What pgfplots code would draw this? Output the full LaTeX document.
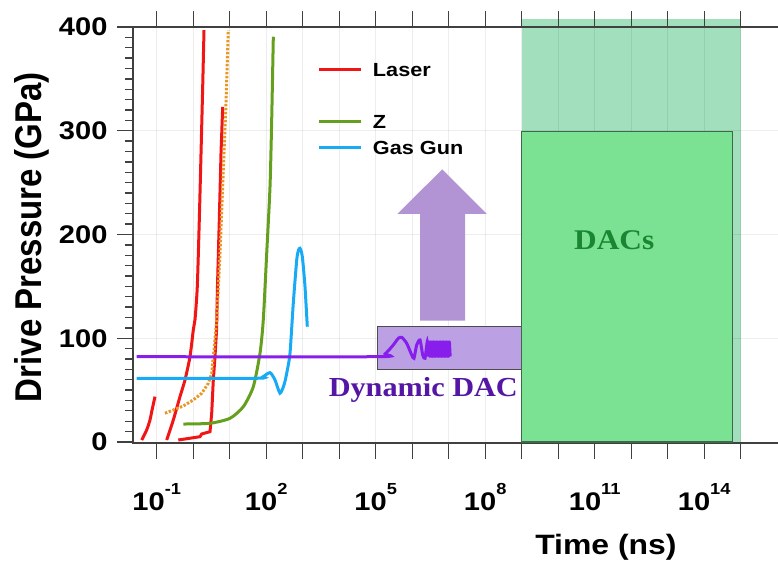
\documentclass[border=0pt]{standalone}
\usepackage{fontspec}
\setmainfont{Liberation Sans}[FakeStretch=1.14]
\newfontfamily\timesb{Liberation Serif}[FakeStretch=1.1]
\newfontfamily\plainsans{Liberation Sans}
\usepackage{graphicx}
\usepackage{pgfplots}
\pgfplotsset{compat=1.18}
\definecolor{cred}{RGB}{240,22,22}
\definecolor{cgreen}{RGB}{100,160,30}
\definecolor{cblue}{RGB}{25,170,245}
\definecolor{cpurple}{RGB}{135,30,235}
\definecolor{corange}{RGB}{232,152,40}
\definecolor{cbox}{RGB}{188,160,228}
\definecolor{carrow}{RGB}{178,148,212}
\definecolor{cdactext}{RGB}{85,22,165}
\definecolor{cdacs}{RGB}{25,135,50}
\definecolor{cgbox}{RGB}{122,226,146}
\definecolor{clight}{RGB}{162,223,188}
\definecolor{cgedge}{RGB}{60,105,75}
\newcommand\xl[1]{10\raisebox{16pt}{\fontsize{16}{16}\selectfont#1}}
\begin{document}
\begin{tikzpicture}
\begin{axis}[
  at={(133pt,120pt)}, anchor=south west,
  scale only axis, width=647pt, height=416pt,
  set layers, clip=false,
  xmode=log,
  xmin=0.02242, xmax=1.194e16,
  ymin=-1, ymax=400,
  xtick={1e-1,1e0,1e1,1e2,1e3,1e4,1e5,1e6,1e7,1e8,1e9,1e10,1e11,1e12,1e13,1e14,1e15},
  xticklabels={\xl{-1},,,\xl{2},,,\xl{5},,,\xl{8},,,\xl{11},,,\xl{14},},
  xminorticks=false,
  xtick pos=both, xticklabel pos=lower,
  ytick={0,100,200,300,400},
  yticklabels={0,100,200,300,400},
  minor y tick num=9,
  ytick pos=left,
  tick align=outside,
  major tick length=16pt, minor tick length=8pt,
  tick style={draw=black!75, line width=1.3pt},
  axis line style={draw=black!75, line width=1.3pt},
  grid=major,
  major grid style={draw=black, draw opacity=0.07, line width=0.8pt},
  tick label style={font=\bfseries\fontsize{25.5}{28}\selectfont},
  xticklabel style={yshift=-21pt},
  yticklabel style={xshift=-6pt},
  xlabel={Time (ns)},
  ylabel={\scalebox{1}[1.13]{Drive Pressure (GPa)}},
  every axis x label/.style={at={(axis description cs:0.731,-0.2692)}, anchor=base, font=\bfseries\fontsize{28}{30}\selectfont},
  every axis y label/.style={at={(axis description cs:-0.1411,0.495)}, rotate=90, anchor=base, font=\plainsans\bfseries\fontsize{33}{36}\selectfont},
  legend style={at={(axis description cs:0.2859,0.9147)}, anchor=north west, draw=none, fill=none, inner sep=0pt, outer sep=0pt, row sep=12.4pt, column sep=10pt, font=\bfseries\fontsize{19}{19}\selectfont, nodes={inner sep=0pt, text height=13.6pt, text depth=0pt}},
  legend cell align=left,
  legend image code/.code={\draw[#1] (0pt,0pt) -- (42pt,0pt);},
]
% light green DAC range
\addplot[on layer=axis background, fill=clight, draw=none, forget plot] coordinates {(1e9,-1) (1e15,-1) (1e15,408) (1e9,408)} -- cycle;
% dynamic DAC box
\addplot[fill=cbox, draw=black!70, line width=1.3pt, forget plot] coordinates {(1.107e5,70.1) (1e9,70.1) (1e9,111.1) (1.107e5,111.1)} -- cycle;
% Laser
\addplot[cred, line width=3pt, smooth, tension=0.4, forget plot] coordinates {(3.881e-2,1.9) (5.32e-2,11.6) (6.55e-2,21.2) (7.29e-2,29.2) (8.97e-2,43.7)};
\addplot[cred, line width=3pt, smooth, tension=0.4, forget plot] coordinates {(0.1879,1.9) (0.2851,21.2) (0.4345,43.7) (0.5957,59.8) (0.8166,82.2) (1.007,108) (1.119,117.6) (1.294,149.7) (1.469,214) (1.637,278) (1.820,342.5) (1.977,397)};
\addplot[cred, line width=3pt, forget plot] coordinates {(0.3908,1.9) (0.8166,3.6) (1.535,5.1) (1.710,7.7) (2.884,9.9) (3.214,27.7) (3.556,59.8) (3.954,82.2) (4.365,108) (4.624,150) (5.188,214) (5.781,278.6) (6.427,323)};
% orange dotted
\addplot[corange, line width=3pt, dash pattern=on 2.4pt off 1.6pt, forget plot] coordinates {(0.1687,27.7) (0.2851,30.8) (0.5358,34.7) (1.007,40.5) (1.710,46.9) (2.594,56.6) (3.214,66.2) (3.715,88.7) (4.406,117.6) (5.420,182) (6.683,262) (7.925,326.7) (9.162,397)};
% Z
\addplot[cgreen, line width=3pt, smooth, tension=0.4, forget plot] coordinates {(0.5358,17.3) (2.884,18.0) (10.19,22.8) (23.60,34.0) (44.36,53.3) (67.61,85.5) (83.18,117.6) (103.3,181.9) (127.1,246) (141.3,310) (156.7,390.6)};
% Gas gun
\addplot[cblue, line width=3pt, smooth, tension=0.4, forget plot] coordinates {(2.831e-2,61.4) (54.95,61.4) (81.66,62.9) (127.1,66.8) (174.2,59.8) (238.8,47) (307.6,55) (364.8,66.2) (448.7,85.5) (552.1,133.7) (685.5,175.4) (767.4,185) (843.4,186.7) (926.8,183) (1000,175.4) (1156,149.7) (1337,111.1)};
% Dynamic DAC line
\addplot[cpurple, line width=3pt, smooth, tension=0.4, forget plot] coordinates {(2.831e-2,82.2) (1.064e5,82.2) (1.799e5,84.8) (3.034e5,93.5) (4.159e5,99.9) (5.152e5,100.9) (7.063e5,95.1) (9.683e5,83.9) (1.119e6,80.7) (1.327e6,93.5) (1.637e6,98.3) (1.941e6,83.9) (2.244e6,80.7) (2.594e6,96.7) (2.754e6,82.5)};
\addplot[cpurple, line width=3pt, line join=round, forget plot] coordinates {(2.754e6,82.5) (2.884e6,96.5) (3.020e6,82.5) (3.162e6,96.5) (3.311e6,82.5) (3.467e6,96.5) (3.631e6,82.5) (3.802e6,96.5) (3.981e6,82.5) (4.169e6,96.5) (4.365e6,82.5) (4.571e6,96.5) (4.786e6,82.5) (5.012e6,96.5) (5.248e6,82.5) (5.495e6,96.5) (5.754e6,82.5) (6.026e6,96.5) (6.310e6,82.5) (6.607e6,96.5) (6.918e6,82.5) (7.244e6,96.5) (7.586e6,82.5) (7.943e6,96.5) (8.318e6,82.5) (8.710e6,96.5) (9.120e6,82.5) (9.550e6,96.5) (1.000e7,82.5) (1.047e7,96.5) (1.096e7,82.5)};
% DACs box
\addplot[fill=cgbox, draw=cgedge, line width=1.3pt, forget plot] coordinates {(1e9,0) (6.026e14,0) (6.026e14,299.5) (1e9,299.5)} -- cycle;
% arrow
\addplot[fill=carrow, draw=none, forget plot] coordinates {(1.637e6,116.9) (2.799e7,116.9) (2.799e7,219.8) (1.099e8,219.8) (6.683e6,262.8) (3.908e5,219.8) (1.637e6,219.8)} -- cycle;
\node[font=\timesb\bfseries\fontsize{27.5}{30}\selectfont, text=cdactext, anchor=base] at (axis cs:2.014e6,43.7) {Dynamic DAC};
\node[font=\timesb\bfseries\fontsize{28.5}{30}\selectfont, text=cdacs, anchor=base] at (axis cs:3.42e11,186) {DACs};
\addlegendimage{cred, line width=3pt}\addlegendentry{Laser}
\addlegendimage{empty legend}\addlegendentry{}
\addlegendimage{cgreen, line width=3pt}\addlegendentry{Z}
\addlegendimage{cblue, line width=3pt}\addlegendentry{Gas Gun}
\end{axis}
\pgfresetboundingbox
\path[use as bounding box] (0,0) rectangle (778pt,563pt);
\end{tikzpicture}
\end{document}
